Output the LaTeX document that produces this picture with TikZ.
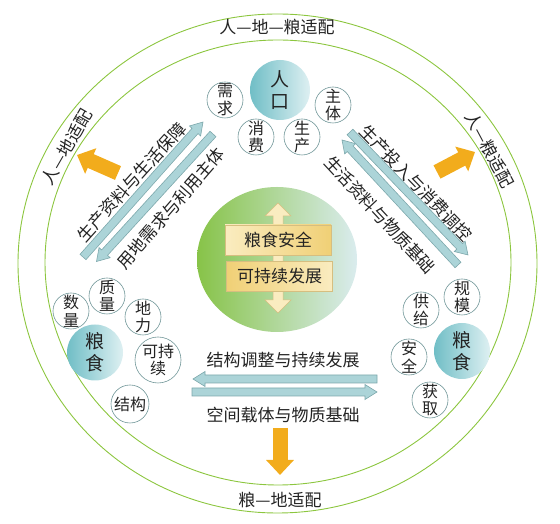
\documentclass[tikz,border=0pt]{standalone}
\usepackage{fontspec}
\newfontfamily\cjk{Noto Sans CJK SC}
\usetikzlibrary{positioning,calc,shapes.geometric,arrows.meta}
\definecolor{bandgreen}{RGB}{140,198,63}
\definecolor{ringgrey}{RGB}{112,150,152}
\definecolor{tealdark}{RGB}{112,190,198}
\definecolor{teallight}{RGB}{222,240,242}
\definecolor{coregreen}{RGB}{135,195,72}
\definecolor{coremid}{RGB}{185,218,165}
\definecolor{corelight}{RGB}{218,236,238}
\definecolor{arrowblue}{RGB}{172,212,216}
\definecolor{arrowedge}{RGB}{125,168,172}
\definecolor{goldarrow}{RGB}{242,172,28}
\definecolor{boxdark}{RGB}{240,208,118}
\definecolor{boxlight}{RGB}{250,236,192}
\definecolor{boxedge}{RGB}{214,190,128}
\definecolor{txt}{RGB}{35,35,35}
\tikzset{
  ring/.style={draw=bandgreen, line width=0.9pt},
  band text/.style={font=\cjk\fontsize{17}{19}\selectfont, text=txt, inner sep=1pt},
  flow text/.style={font=\cjk\fontsize{17}{19}\selectfont, text=txt, inner sep=1pt},
  main node/.style={circle, minimum size=56pt, inner sep=0pt, align=center,
    left color=tealdark, right color=teallight, text=txt,
    font=\cjk\fontsize{19}{22}\selectfont},
  sub node/.style={circle, draw=ringgrey, fill=white, line width=0.6pt,
    minimum size=36pt, inner sep=0pt, align=center, text=txt,
    font=\cjk\fontsize{16}{17.5}\selectfont},
  core/.style={ellipse, minimum width=160pt, minimum height=145pt,
    left color=coregreen, middle color=coremid, right color=corelight},
  goal box/.style={rectangle, draw=boxedge, line width=0.5pt, minimum width=106pt,
    minimum height=30pt, inner sep=0pt, text=txt, font=\cjk\fontsize{17}{19}\selectfont},
  updown/.style={fill=boxlight, draw=boxedge, line width=0.5pt, line join=miter},
  flow arrow/.style={draw=arrowedge, fill=arrowblue, line width=0.6pt, line join=miter},
  gold arrow/.style={draw=goldarrow, line width=15pt, -{Triangle[width=27pt,length=15pt]}},
}
% block arrow: [style] tail, tip, half shaft, half head, head length
\newcommand{\blockarrow}[6][flow arrow]{%
  \coordinate (neck) at ($(#3)!#6!(#2)$);
  \draw[#1] ($(#2)!#4!90:(#3)$) -- ($(neck)!#4!90:(#3)$) -- ($(neck)!#5!90:(#3)$)
    -- (#3) -- ($(neck)!#5!-90:(#3)$) -- ($(neck)!#4!-90:(#3)$)
    -- ($(#2)!#4!-90:(#3)$) -- cycle;}

\begin{document}
\begin{tikzpicture}[x=1pt,y=1pt]
  \useasboundingbox (0,0) rectangle (560,524);

  % two rings and their labels
  \draw[ring] (277.5,260.5) ellipse [x radius=259.5, y radius=249.5];
  \draw[ring] (278,261.5) ellipse [x radius=233, y radius=222.5];
  \node[band text] (rdl) at (277,497) {人—地—粮适配};
  \node[band text] (ldl) at (280,24) {粮—地适配};
  \node[band text, rotate=60] (rd) at (67,377) {人—地适配};
  \node[band text, rotate=-62] (rl) at (490,374) {人—粮适配};

  % gold arrows out to the ring
  \coordinate (g1) at (280,96);  \coordinate (g1e) at (280,49);
  \coordinate (g2) at (118,351); \coordinate (g2e) at (77,369);
  \coordinate (g3) at (437,352); \coordinate (g3e) at (475,372);
  \draw[gold arrow] (g1) -- (g1e);
  \draw[gold arrow] (g2) -- (g2e);
  \draw[gold arrow] (g3) -- (g3e);

  % paired flows
  \coordinate (l1a) at (83,267);    \coordinate (l1b) at (203,402);
  \coordinate (l2a) at (213,390);   \coordinate (l2b) at (96.5,262.5);
  \coordinate (r1a) at (350,392);   \coordinate (r1b) at (468,269);
  \coordinate (r2a) at (458,259);   \coordinate (r2b) at (342,384);
  \coordinate (b1a) at (377,145);   \coordinate (b1b) at (193,145);
  \coordinate (b2a) at (192,132);   \coordinate (b2b) at (377,132);
  \blockarrow{l1a}{l1b}{4pt}{7.5pt}{12pt}
  \blockarrow{l2a}{l2b}{4pt}{7.5pt}{12pt}
  \blockarrow{r1a}{r1b}{4pt}{7.5pt}{12pt}
  \blockarrow{r2a}{r2b}{4pt}{7.5pt}{12pt}
  \blockarrow{b1a}{b1b}{4pt}{7.5pt}{12pt}
  \blockarrow{b2a}{b2b}{4pt}{7.5pt}{12pt}

  \node[flow text, rotate=48] (f1) at (131.5,342) {生产资料与生活保障};
  \node[flow text, rotate=49] (f2) at (171,315.5) {用地需求与利用主体};
  \node[flow text, rotate=-46] (f3) at (416,341) {生产投入与消费调控};
  \node[flow text, rotate=-47] (f4) at (380,309) {生活资料与物质基础};
  \node[flow text] (f5) at (283,164) {结构调整与持续发展};
  \node[flow text] (f6) at (283,109) {空间载体与物质基础};

  % centre
  \node[core] (core) at (277,264.5) {};
  \coordinate (up) at (278,321); \coordinate (dn) at (278,211);
  \draw[updown] (up) -- ++(13,-13) -- ++(-8,0) -- ++(0,-84) -- ++(8,0) -- (dn)
    -- ++(-13,13) -- ++(8,0) -- ++(0,84) -- ++(-8,0) -- cycle;
  \node[goal box, left color=boxlight, right color=boxdark] (gs) at (278,284) {粮食安全};
  \node[goal box, left color=boxdark, right color=boxlight] (kc) at (279.5,247.5) {可持续发展};

  % population
  \node[main node, minimum size=60pt] (rk) at (280,434) {人\\口};
  \node[sub node] (xq) at (225,424) {需\\求};
  \node[sub node] (xf) at (256,387) {消\\费};
  \node[sub node] (sc) at (302,387) {生\\产};
  \node[sub node] (zt) at (333,419) {主\\体};

  % grain, land side
  \node[main node] (lsl) at (95,171.5) {粮\\食};
  \node[sub node] (sl) at (71,213) {数\\量};
  \node[sub node] (zl) at (107,228) {质\\量};
  \node[sub node] (dl) at (143,207) {地\\力};
  \node[sub node, minimum size=46pt] (kcx) at (158,164) {可持\\续};
  \node[sub node, minimum size=38pt] (jg) at (130,120) {结构};

  % grain, people side
  \node[main node] (lsr) at (462,173) {粮\\食};
  \node[sub node] (gm) at (462,227) {规\\模};
  \node[sub node] (gj) at (421,214) {供\\给};
  \node[sub node] (aq) at (409,167) {安\\全};
  \node[sub node] (hq) at (430,124) {获\\取};
\end{tikzpicture}
\end{document}
